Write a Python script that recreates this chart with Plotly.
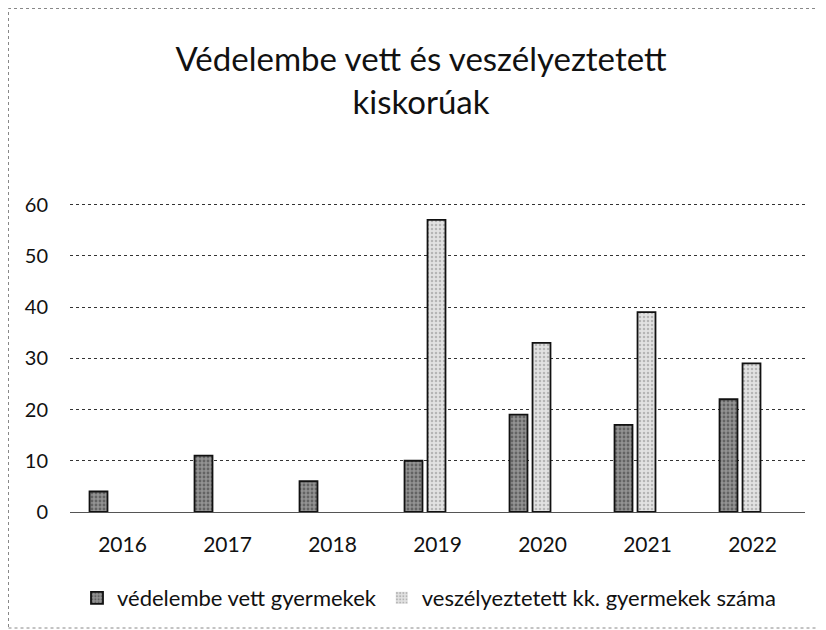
import plotly.graph_objects as go

years = ["2016", "2017", "2018", "2019", "2020", "2021", "2022"]
vedelembe = [4, 11, 6, 10, 19, 17, 22]
veszelyeztetett = [0, 0, 0, 57, 33, 39, 29]
series_names = ["védelembe vett gyermekek", "veszélyeztetett kk. gyermekek száma"]
title_text = "Védelembe vett és veszélyeztetett<br>kiskorúak"
y_ticks = [0, 10, 20, 30, 40, 50, 60]

FONT = "Lato, 'Open Sans', sans-serif"
BAR_W = 0.171


def outline(vals):
    return [0 if v == 0 else 1.8 for v in vals]


fig = go.Figure()
fig.add_trace(go.Bar(
    x=years, y=vedelembe, name=series_names[0],
    width=BAR_W, offset=-0.314,
    marker=dict(color="#8a8a8a", line=dict(color="#111", width=outline(vedelembe)),
                pattern=dict(shape=".", fgcolor="#333", bgcolor="#939393", size=4, solidity=0.4)),
))
fig.add_trace(go.Bar(
    x=years, y=veszelyeztetett, name=series_names[1],
    width=BAR_W, offset=-0.095,
    marker=dict(color="#d4d4d4", line=dict(color="#111", width=outline(veszelyeztetett)),
                pattern=dict(shape=".", fgcolor="#888", bgcolor="#e2e2e2", size=4, solidity=0.3)),
))

W, H = 826, 630
ml, mr, mt, mb = 62, 29, 195, 126
pw, ph = W - ml - mr, H - mt - mb

fig.update_layout(
    width=W, height=H,
    margin=dict(l=ml, r=mr, t=mt, b=mb, autoexpand=False),
    paper_bgcolor="white", plot_bgcolor="white",
    font=dict(family=FONT, size=20, color="#111"),
    title=dict(text=title_text, x=413 / W, xanchor="center", xref="container",
               y=1 - 63 / H, yanchor="top", yref="container",
               font=dict(family=FONT, size=33, color="#111")),
    barmode="overlay",
    showlegend=True,
    legend=dict(orientation="h", x=(421 - ml) / pw, xanchor="center",
                y=-86 / ph, yanchor="middle",
                font=dict(family=FONT, size=22, color="#111"),
                traceorder="normal"),
    xaxis=dict(showgrid=False, showline=False, ticks="", ticklabelstandoff=18,
               tickangle=0, tickfont=dict(size=21)),
    yaxis=dict(range=[0, 60.3], tickvals=y_ticks, showgrid=True, gridcolor="#333",
               gridwidth=1, griddash="dot", zeroline=True, zerolinecolor="#555",
               zerolinewidth=1, showline=False, ticks="", ticklabelstandoff=21,
               tickfont=dict(size=20)),
    shapes=[dict(type="rect", xref="paper", yref="paper",
                 x0=(0.5 - ml) / pw, x1=(817 - ml) / pw,
                 y0=(H - mb - 620) / ph, y1=(H - mb - 0.5) / ph,
                 line=dict(color="#888", width=1, dash="dot"), fillcolor="rgba(0,0,0,0)",
                 layer="below")],
)

fig.write_html("out.html")
